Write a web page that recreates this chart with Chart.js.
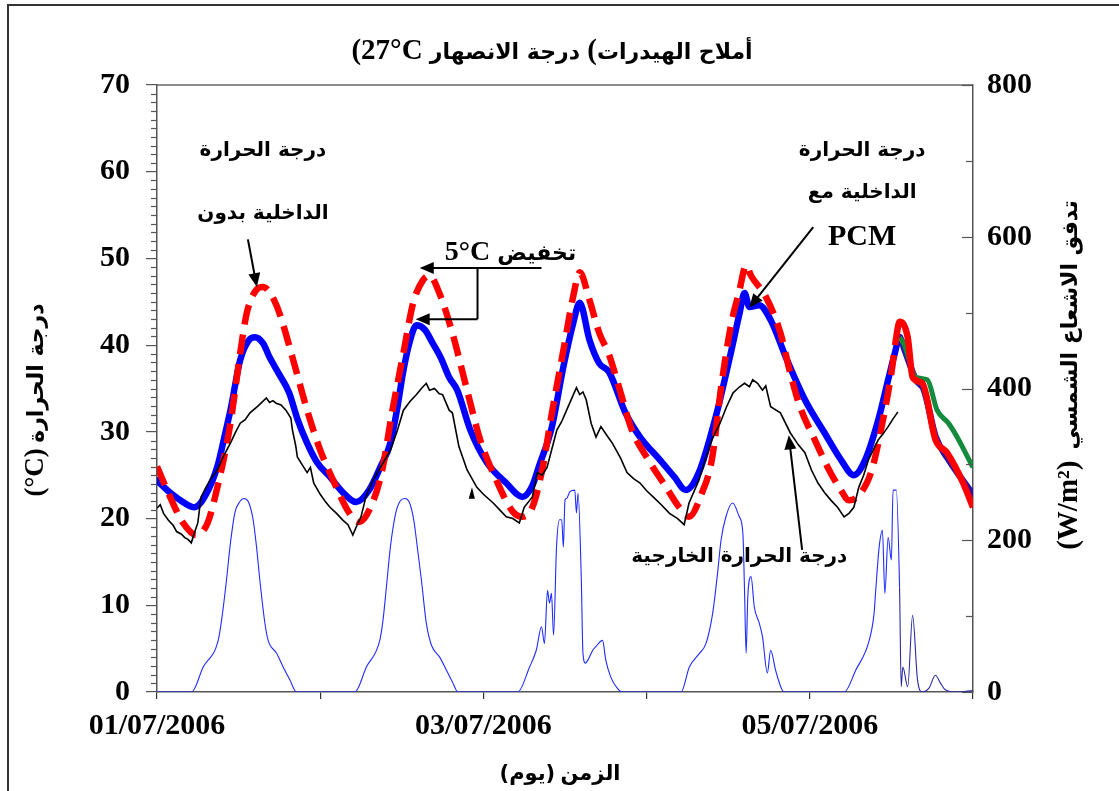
<!DOCTYPE html>
<html>
<head>
<meta charset="utf-8">
<script src="https://cdn.jsdelivr.net/npm/chart.js@4.4.1/dist/chart.umd.min.js"></script>
<style>
  html, body { margin: 0; padding: 0; background: #fff; }
  #chart { display: block; }
</style>
</head>
<body>
<canvas id="chart" width="1119" height="791"></canvas>
<script>
// x values are days since 01/07/2006 00:00
const xTickLabels = ['01/07/2006', '', '03/07/2006', '', '05/07/2006', ''];

// indoor temperature with PCM (thick blue)
const pcmX = [0.00, 0.08, 0.16, 0.23, 0.30, 0.37, 0.42, 0.45, 0.51, 0.56, 0.60, 0.65, 0.69, 0.75, 0.81, 0.86, 0.92, 0.98,
  1.06, 1.14, 1.22, 1.30, 1.37, 1.43, 1.47, 1.51, 1.55, 1.59, 1.64, 1.69, 1.74, 1.79, 1.84, 1.92,
  2.02, 2.14, 2.24, 2.30, 2.34, 2.42, 2.49, 2.55, 2.59, 2.65, 2.71, 2.77, 2.87, 2.96,
  3.08, 3.17, 3.24, 3.32, 3.43, 3.51, 3.57, 3.60, 3.63, 3.69, 3.76, 3.86, 3.97,
  4.09, 4.19, 4.27, 4.34, 4.42, 4.48, 4.52, 4.55, 4.58, 4.65, 4.70, 4.77, 4.85, 4.93, 5.00];
const pcmT = [24.4, 23.0, 21.9, 21.3, 22.8, 26.0, 30.0, 32.5, 38.3, 40.5, 40.9, 40.2, 38.6, 36.6, 34.5, 31.5, 28.7, 26.5,
  24.8, 23.0, 21.9, 23.3, 26.0, 28.7, 32.5, 37.1, 40.5, 42.3, 41.8, 40.2, 38.5, 36.3, 34.8, 30.2,
  26.5, 24.1, 22.5, 23.8, 26.0, 30.6, 37.5, 42.5, 44.9, 40.6, 37.9, 36.9, 32.2, 29.4,
  26.8, 24.8, 23.3, 25.3, 32.2, 38.6, 43.7, 46.0, 44.4, 44.6, 42.9, 38.3, 33.7,
  29.9, 26.8, 25.0, 26.8, 31.4, 36.0, 39.0, 40.9, 39.5, 36.0, 34.8, 29.5, 26.8, 24.6, 22.8];

// indoor temperature without PCM (red, dashed)
const refX = [0.00, 0.08, 0.16, 0.24, 0.31, 0.37, 0.45, 0.51, 0.55, 0.61, 0.65, 0.70, 0.75, 0.83, 0.92,
  1.00, 1.08, 1.18, 1.24, 1.32, 1.38, 1.44, 1.51, 1.57, 1.63, 1.67, 1.73, 1.81, 1.90, 1.98,
  2.08, 2.18, 2.24, 2.30, 2.36, 2.42, 2.49, 2.55, 2.59, 2.65, 2.71, 2.77, 2.83, 2.91,
  3.00, 3.12, 3.20, 3.26, 3.34, 3.40, 3.46, 3.52, 3.57, 3.60, 3.61, 3.64, 3.73, 3.82, 3.88, 3.94,
  4.03, 4.11, 4.19, 4.24, 4.31, 4.38, 4.44, 4.50, 4.53, 4.55, 4.60, 4.63, 4.69, 4.77, 4.84, 4.94, 5.00];
const refT = [26.0, 22.5, 19.5, 18.1, 19.5, 23.6, 31.0, 39.1, 43.7, 46.4, 46.7, 45.8, 43.7, 38.6, 32.5,
  27.9, 24.4, 20.6, 19.6, 21.8, 25.6, 32.2, 39.1, 44.9, 47.5, 48.0, 46.0, 41.4, 34.8, 29.1,
  24.4, 20.8, 20.2, 21.3, 25.6, 32.2, 39.4, 45.6, 48.4, 45.2, 41.4, 38.9, 35.2, 30.2,
  27.1, 23.6, 21.3, 20.2, 23.0, 26.8, 35.6, 42.6, 46.4, 48.9, 49.2, 48.0, 45.6, 41.4, 36.8, 32.9,
  29.1, 25.9, 23.3, 22.1, 22.9, 25.6, 30.6, 36.8, 40.9, 42.7, 40.9, 36.3, 35.6, 29.1, 27.6, 24.1, 21.3];

// last-day extra curve (green)
const greenX = [4.55, 4.58, 4.65, 4.72, 4.78, 4.85, 4.90, 5.00];
const greenT = [40.9, 40.0, 36.3, 36.0, 32.5, 31.0, 29.5, 25.9];

// outdoor temperature (thin black)
const outX = [0.00, 0.02, 0.04, 0.07, 0.10, 0.12, 0.15, 0.17, 0.19, 0.21, 0.23, 0.25, 0.27, 0.30, 0.33, 0.37, 0.41, 0.45,
  0.48, 0.51, 0.54, 0.57, 0.62, 0.67, 0.69, 0.71, 0.73, 0.76, 0.79, 0.82, 0.83, 0.85, 0.86, 0.89, 0.92, 0.94, 0.96,
  1.00, 1.03, 1.06, 1.10, 1.14, 1.17, 1.20, 1.22, 1.25, 1.28, 1.32, 1.36, 1.40, 1.43, 1.47, 1.51, 1.55, 1.59,
  1.62, 1.65, 1.67, 1.70, 1.73, 1.75, 1.79, 1.81, 1.85, 1.90, 1.96,
  2.00, 2.06, 2.10, 2.14, 2.18, 2.22, 2.25, 2.30, 2.33, 2.36, 2.39, 2.45, 2.48, 2.51, 2.54, 2.57, 2.59, 2.61,
  2.63, 2.66, 2.69, 2.72, 2.76, 2.79, 2.84, 2.88, 2.92, 2.96,
  3.00, 3.04, 3.09, 3.14, 3.19, 3.23, 3.26, 3.32, 3.36, 3.40, 3.45, 3.49, 3.53, 3.57, 3.60, 3.63, 3.65, 3.68,
  3.71, 3.73, 3.76, 3.82, 3.88, 3.93, 3.97,
  4.01, 4.05, 4.09, 4.13, 4.17, 4.21, 4.24, 4.27, 4.30, 4.33, 4.36, 4.42, 4.45, 4.48, 4.51, 4.54];
const outT = [21.2, 21.6, 20.6, 19.8, 19.2, 18.5, 18.2, 17.8, 17.6, 17.2, 18.4, 19.5, 22.5, 23.6, 24.6, 25.6, 27.3, 28.7,
  29.9, 31.0, 31.4, 32.2, 33.0, 33.9, 33.4, 33.6, 33.3, 33.1, 32.5, 31.6, 30.2, 28.4, 27.1, 26.2, 25.3, 25.9, 24.1,
  22.8, 22.0, 21.3, 20.6, 19.8, 19.3, 18.1, 19.0, 20.2, 22.5, 24.3, 25.6, 26.9, 27.9, 30.0, 32.5, 33.5, 34.3,
  35.0, 35.6, 34.8, 35.0, 34.4, 34.3, 32.5, 32.2, 28.3, 25.6, 23.6,
  22.8, 21.8, 21.0, 20.2, 20.0, 19.5, 21.3, 22.5, 25.3, 25.0, 25.9, 30.2, 31.2, 32.5, 33.8, 35.1, 34.3, 34.6,
  33.7, 31.0, 29.4, 30.6, 29.5, 28.7, 27.0, 25.3, 24.6, 24.1,
  23.2, 22.5, 21.6, 20.6, 20.0, 19.3, 21.8, 24.4, 26.8, 29.1, 31.0, 32.9, 34.5, 35.2, 35.6, 35.2, 36.0, 35.6,
  34.8, 35.3, 32.9, 32.2, 29.9, 28.5, 27.6,
  25.6, 24.1, 23.0, 22.1, 21.3, 20.2, 20.6, 21.3, 23.6, 25.0, 26.8, 29.1, 29.8, 30.6, 31.5, 32.3];

// solar radiation flux, W/m2 (thin blue, right axis)
const solarX = [0.00, 0.212, 0.283, 0.375, 0.396, 0.426, 0.447, 0.477, 0.508, 0.532, 0.559, 0.589, 0.610, 0.630,
  0.661, 0.681, 0.733, 0.773, 0.814, 0.855,
  1.212, 1.283, 1.365, 1.385, 1.410, 1.430, 1.463, 1.491, 1.518, 1.544, 1.573, 1.595, 1.620, 1.650, 1.681,
  1.732, 1.773, 1.813, 1.844,
  2.211, 2.283, 2.324, 2.356, 2.374, 2.393, 2.405, 2.417, 2.430, 2.448, 2.466, 2.480, 2.490, 2.500, 2.510,
  2.530, 2.560, 2.570, 2.580, 2.600, 2.610, 2.625, 2.640, 2.670, 2.690, 2.730, 2.750, 2.780, 2.820, 2.850,
  3.211, 3.262, 3.320, 3.364, 3.405, 3.435, 3.456, 3.486, 3.527, 3.568, 3.590, 3.600, 3.610, 3.620, 3.640,
  3.660, 3.690, 3.710, 3.740, 3.760, 3.790, 3.820, 3.840,
  4.211, 4.282, 4.364, 4.394, 4.404, 4.425, 4.445, 4.460, 4.480, 4.500, 4.510, 4.530, 4.550, 4.560, 4.570,
  4.600, 4.630, 4.660, 4.690, 4.730, 4.770, 4.800, 4.830, 4.900, 5.000];
const solarS = [0, 0, 33, 68, 95, 148, 191, 236, 251, 255, 251, 227, 191, 148,
  91, 68, 51, 33, 16, 0,
  0, 33, 68, 95, 148, 191, 236, 252, 255, 251, 227, 191, 148, 91, 62,
  46, 29, 12, 0,
  0, 33, 55, 86, 64, 134, 117, 130, 75, 191, 227, 227, 191, 253, 255,
  264, 266, 236, 262, 148, 51, 38, 42, 55, 60, 68, 42, 20, 5, 0,
  0, 33, 50, 64, 104, 157, 200, 231, 249, 231, 209, 134, 51, 125, 152,
  112, 91, 73, 25, 55, 29, 8, 0,
  0, 29, 68, 104, 134, 191, 213, 130, 204, 174, 266, 266, 138, 7, 33,
  7, 101, 16, 0, 5, 22, 12, 3, 0, 2];

const pts = (xs, ys) => xs.map((x, i) => ({ x, y: ys[i] }));

const SERIF = "'Liberation Serif', 'Times New Roman', serif";
const ARABIC = "'DejaVu Sans'";
const ser = px => 'bold ' + px + 'px ' + SERIF;
const ara = px => 'bold ' + px + 'px ' + ARABIC;

function arrow(ctx, x1, y1, x2, y2, len, half) {
  const a = Math.atan2(y2 - y1, x2 - x1);
  ctx.beginPath();
  ctx.moveTo(x1, y1);
  ctx.lineTo(x2 - Math.cos(a) * len * 0.8, y2 - Math.sin(a) * len * 0.8);
  ctx.stroke();
  ctx.beginPath();
  ctx.moveTo(x2, y2);
  ctx.lineTo(x2 - Math.cos(a) * len - Math.sin(a) * half, y2 - Math.sin(a) * len + Math.cos(a) * half);
  ctx.lineTo(x2 - Math.cos(a) * len + Math.sin(a) * half, y2 - Math.sin(a) * len - Math.cos(a) * half);
  ctx.closePath();
  ctx.fill();
}

// segs are given in visual order, left to right: [text, font]
// each segment is single-script, so the normal bidi pass shapes the Arabic runs
function textRow(ctx, segs, cx, cy, rot) {
  ctx.save();
  ctx.translate(cx, cy);
  if (rot) ctx.rotate(rot);
  ctx.direction = 'ltr';
  ctx.textBaseline = 'alphabetic';
  ctx.textAlign = 'left';
  ctx.fillStyle = '#000';
  let total = 0;
  const widths = segs.map(([t, f]) => { ctx.font = f; const w = ctx.measureText(t).width; total += w; return w; });
  let x = -total / 2;
  segs.forEach(([t, f], i) => {
    ctx.font = f;
    ctx.fillText(t, x, 0);
    x += widths[i];
  });
  ctx.restore();
}

const decorPlugin = {
  id: 'decor',
  beforeDraw(chart) {
    const ctx = chart.ctx;
    ctx.save();
    ctx.fillStyle = '#fff';
    ctx.fillRect(0, 0, chart.width, chart.height);
    ctx.restore();
  },
  afterDraw(chart) {
    const ctx = chart.ctx;
    const { left, right, top } = chart.chartArea;
    const xs = chart.scales.x, ys = chart.scales.y, y2 = chart.scales.y2;
    const px = d => xs.getPixelForValue(d);
    const py = t => ys.getPixelForValue(t);

    ctx.save();
    // figure frame
    ctx.strokeStyle = '#333';
    ctx.lineWidth = 2;
    ctx.beginPath();
    ctx.moveTo(8, chart.height);
    ctx.lineTo(8, 5);
    ctx.lineTo(chart.width, 5);
    ctx.stroke();

    // plot box top edge
    ctx.strokeStyle = '#666';
    ctx.lineWidth = 1.5;
    ctx.beginPath();
    ctx.moveTo(left, top);
    ctx.lineTo(right, top);
    ctx.stroke();

    // minor ticks on the left axis
    ctx.strokeStyle = '#555';
    ctx.lineWidth = 1.2;
    for (let t = 1; t < 70; t++) {
      if (t % 10 === 0) continue;
      const y = Math.round(py(t)) + 0.5;
      ctx.beginPath();
      ctx.moveTo(left - 6, y);
      ctx.lineTo(left, y);
      ctx.stroke();
    }
    // inward ticks on the right axis
    for (let s = 0; s <= 800; s += 100) {
      const y = Math.round(y2.getPixelForValue(s)) + 0.5;
      ctx.beginPath();
      ctx.moveTo(right - (s % 200 === 0 ? 11 : 7), y);
      ctx.lineTo(right, y);
      ctx.stroke();
    }

    // titles
    textRow(ctx, [['(27°C ', ser(29)], ['درجة الانصهار', ara(22)], [' (', ser(29)], ['أملاح الهيدرات', ara(22)]], 552, 59);
    textRow(ctx, [['(يوم)', ara(21)], [' ', ser(21)], ['الزمن', ara(21)]], 560, 780);
    textRow(ctx, [['(°C)', ser(27)], [' ', ser(22)], ['درجة الحرارة', ara(22)]], 43, 400, -Math.PI / 2);
    textRow(ctx, [['(W/m²)', ser(29)], ['  ', ser(22)], ['تدفق الاشعاع الشمسي', ara(22)]], 1077, 375, -Math.PI / 2);

    // annotations
    const af = ara(20);
    textRow(ctx, [['درجة الحرارة', af]], px(0.649), py(62.7) + 8);
    textRow(ctx, [['الداخلية بدون', af]], px(0.649), py(55.5) + 8);
    textRow(ctx, [['درجة الحرارة', af]], px(4.321), py(62.7) + 8);
    textRow(ctx, [['الداخلية مع', af]], px(4.321), py(57.9) + 8);
    textRow(ctx, [['PCM', ser(30)]], px(4.321), py(52.8) + 11);
    textRow(ctx, [['5°C ', ser(28)], ['تخفيض', ara(22)]], px(2.166), py(51.0) + 10);
    textRow(ctx, [['درجة الحرارة الخارجية', af]], px(3.568), py(15.9) + 8);

    ctx.strokeStyle = '#000';
    ctx.fillStyle = '#000';
    ctx.lineWidth = 2;
    arrow(ctx, px(0.557), py(52.2), px(0.612), py(46.7), 14, 6);
    arrow(ctx, px(4.021), py(53.6), px(3.629), py(44.3), 14, 6);
    arrow(ctx, px(3.953), py(16.4), px(3.871), py(29.6), 14, 6);
    // 5°C bracket
    arrow(ctx, px(2.356), py(48.9), px(1.610), py(48.9), 14, 6);
    ctx.beginPath();
    ctx.moveTo(px(1.964), py(48.9));
    ctx.lineTo(px(1.964), py(43.0));
    ctx.stroke();
    arrow(ctx, px(1.964), py(43.0), px(1.585), py(43.0), 14, 6);
    // stray small marker near outdoor curve
    ctx.beginPath();
    ctx.moveTo(px(1.930), py(23.6));
    ctx.lineTo(px(1.948), py(22.3));
    ctx.lineTo(px(1.910), py(22.3));
    ctx.closePath();
    ctx.fill();
    ctx.restore();
  }
};

const tickFont = { family: SERIF, size: 30, weight: 'bold' };

new Chart(document.getElementById('chart'), {
  type: 'line',
  data: {
    datasets: [
      {
        label: 'outdoor',
        data: pts(outX, outT),
        borderColor: '#000',
        borderWidth: 1.6,
        pointRadius: 0,
        tension: 0,
        yAxisID: 'y',
      },
      {
        label: 'without PCM',
        data: pts(refX, refT),
        borderColor: '#ff0000',
        borderWidth: 6.5,
        pointRadius: 0,
        cubicInterpolationMode: 'monotone',
        segment: { borderDash: c => (c.p0.parsed.x >= 4.53 ? [] : [20, 10]) },
        yAxisID: 'y',
      },
      {
        label: 'green',
        data: pts(greenX, greenT),
        borderColor: '#138a3c',
        borderWidth: 5,
        pointRadius: 0,
        cubicInterpolationMode: 'monotone',
        yAxisID: 'y',
      },
      {
        label: 'with PCM',
        data: pts(pcmX, pcmT),
        borderColor: '#0000ff',
        borderWidth: 6.5,
        borderJoinStyle: 'round',
        borderCapStyle: 'round',
        pointRadius: 0,
        cubicInterpolationMode: 'monotone',
        segment: { borderColor: c => (c.p0.parsed.x >= 4.55 ? '#2b12a8' : '#0000ff') },
        yAxisID: 'y',
      },
      {
        label: 'solar',
        data: pts(solarX, solarS),
        borderColor: '#1f2bff',
        borderWidth: 1.1,
        pointRadius: 0,
        cubicInterpolationMode: 'monotone',
        segment: { borderColor: c => (c.p0.parsed.x >= 4.55 ? '#2a2aa6' : '#1f2bff') },
        yAxisID: 'y2',
      },
    ],
  },
  options: {
    responsive: false,
    animation: false,
    devicePixelRatio: 1,
    layout: { padding: { top: 85, left: 0, right: 0, bottom: 0 } },
    plugins: { legend: { display: false }, tooltip: { enabled: false }, title: { display: false } },
    scales: {
      x: {
        type: 'linear',
        min: 0,
        max: 5,
        ticks: {
          stepSize: 1,
          autoSkip: false,
          maxRotation: 0,
          padding: 9,
          color: '#000',
          font: tickFont,
          callback: v => xTickLabels[v] ?? '',
        },
        grid: { drawOnChartArea: false, drawTicks: true, tickLength: 7, color: '#333', lineWidth: 1.2 },
        border: { color: '#555', width: 1.5 },
        afterFit: s => { s.height = 99; },
      },
      y: {
        position: 'left',
        min: 0,
        max: 70,
        ticks: { stepSize: 10, padding: 16, color: '#000', font: tickFont },
        grid: { drawOnChartArea: false, drawTicks: true, tickLength: 11, color: '#555', lineWidth: 1.2 },
        border: { color: '#555', width: 1.5 },
        afterFit: s => { s.width = 157; },
      },
      y2: {
        position: 'right',
        min: 0,
        max: 800,
        ticks: { stepSize: 200, padding: 14, color: '#000', font: tickFont },
        grid: { drawOnChartArea: false, drawTicks: false },
        border: { color: '#555', width: 1.5 },
        afterFit: s => { s.width = 146; },
      },
    },
  },
  plugins: [decorPlugin],
});
</script>
</body>
</html>
